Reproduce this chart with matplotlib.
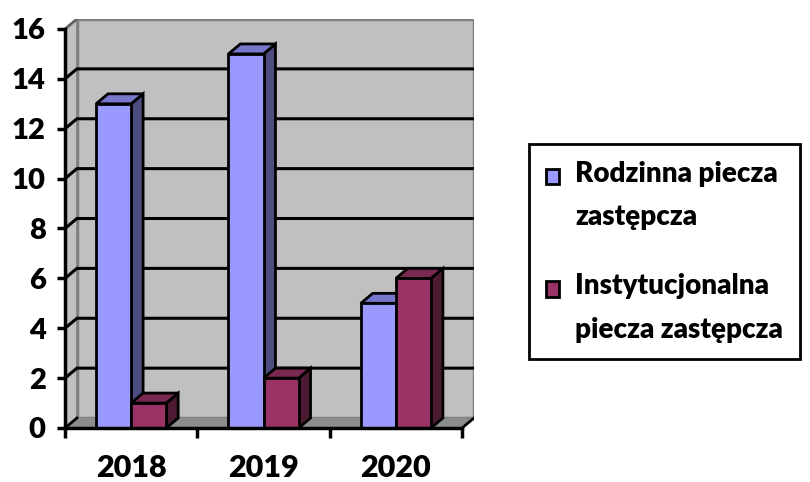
import matplotlib
matplotlib.use("Agg")
import matplotlib.pyplot as plt
from matplotlib.patches import Polygon, Rectangle, Patch
from matplotlib.legend_handler import HandlerPatch

years = ["2018", "2019", "2020"]
rodzinna = [13, 15, 5]
instytucjonalna = [1, 2, 6]
series_names = ["Rodzinna piecza\nzastępcza", "Instytucjonalna\npiecza zastępcza"]
yticks = [0, 2, 4, 6, 8, 10, 12, 14, 16]

plt.rcParams['font.family'] = ['Lato', 'DejaVu Sans']
plt.rcParams['font.weight'] = 'heavy'

# colours: front, side, top
cols = [("#9999ff", "#4d4d80", "#7777cc"),
        ("#993366", "#4d1a33", "#7a2952")]

DX, DY = 0.09, 0.4   # depth of the fake 3d
W = 0.265            # bar width
YMAX = 16

fig = plt.figure(figsize=(8.1, 4.82), dpi=100)
ax = fig.add_axes([65/810, 54/482, 409/810, 409/482])
ax.set_xlim(-0.5, 2.5 + DX)
ax.set_ylim(0, YMAX + DY)

# walls
ax.add_patch(Rectangle((-0.5 + DX, DY), 3, YMAX, fc="#c0c0c0", ec="#808080", lw=2.5, zorder=1))
ax.add_patch(Polygon([(-0.5, 0), (-0.5 + DX, DY), (-0.5 + DX, YMAX + DY), (-0.5, YMAX)],
                     closed=True, fc="#c0c0c0", ec="none", zorder=1))
ax.add_patch(Polygon([(-0.5, 0), (2.5, 0), (2.5 + DX, DY), (-0.5 + DX, DY)],
                     closed=True, fc="#8c8c8c", ec="none", zorder=2))
ax.plot([-0.5 + DX, -0.5 + DX], [DY, YMAX + DY], color="#808080", lw=2, zorder=1.5)

# gridlines on the back wall + side wall
for v in yticks[1:-1]:
    ax.plot([-0.5, -0.5 + DX, 2.5 + DX], [v, v + DY, v + DY], color="black", lw=2.2, zorder=2,
            solid_capstyle="butt")
ax.plot([-0.5, -0.5 + DX], [YMAX, YMAX + DY], color="#606060", lw=2, zorder=2)
ax.plot([-0.5, -0.5 + DX], [0, DY], color="black", lw=2, zorder=3)
ax.plot([2.5, 2.5 + DX], [0, DY], color="black", lw=2, zorder=3)

# bars
k = 0
for g in range(len(years)):
    for s, vals in enumerate([rodzinna, instytucjonalna]):
        front, side, top = cols[s]
        x0 = g - W + s * W
        v = vals[g]
        z = 10 + 2 * k
        ax.add_patch(Polygon([(x0 + W, 0), (x0 + W + DX, DY), (x0 + W + DX, v + DY), (x0 + W, v)],
                             closed=True, fc=side, ec="black", lw=2, zorder=z))
        ax.add_patch(Polygon([(x0, v), (x0 + DX, v + DY), (x0 + W + DX, v + DY), (x0 + W, v)],
                             closed=True, fc=top, ec="black", lw=2, zorder=z))
        ax.bar(x0, v, width=W, align="edge", color=front, edgecolor="black", lw=2, zorder=z + 1)
        k += 1

for side in ["top", "right"]:
    ax.spines[side].set_visible(False)
ax.spines["left"].set_bounds(0, YMAX)
ax.spines["bottom"].set_bounds(-0.5, 2.5)
for side in ["left", "bottom"]:
    ax.spines[side].set_linewidth(2.5)
    ax.spines[side].set_zorder(30)

ax.set_yticks(yticks)
ax.tick_params(axis="y", length=6, width=2.5, pad=8, labelsize=21)
ax.set_xticks([-0.5, 0.5, 1.5, 2.5])
ax.set_xticklabels([])
ax.set_xticks([0, 1, 2], minor=True)
ax.set_xticklabels(years, minor=True)
ax.tick_params(axis="x", which="major", length=7, width=2.5, direction="out")
ax.tick_params(axis="x", which="minor", length=0, pad=19, labelsize=22)
for lab in ax.get_yticklabels() + ax.get_xticklabels(minor=True):
    lab.set_fontweight("heavy")


def shifted_square(legend, orig_handle, xdescent, ydescent, width, height, fontsize):
    return Rectangle((-xdescent, -ydescent + 14), width, height)


handles = [Patch(fc=cols[0][0], ec="black", lw=2), Patch(fc=cols[1][0], ec="black", lw=2)]
leg = fig.legend(handles, series_names, loc="upper left", bbox_to_anchor=(529/810, 1 - 144/482),
                 borderaxespad=0, fancybox=False, edgecolor="black", framealpha=1,
                 prop={"size": 20, "weight": "heavy"}, handlelength=0.47, handleheight=0.47,
                 handletextpad=0.6, borderpad=0.6, labelspacing=1.55,
                 handler_map={Patch: HandlerPatch(patch_func=shifted_square)})
leg.get_frame().set_linewidth(2)
for t in leg.get_texts():
    t.set_linespacing(1.83)

fig.savefig("out.png", dpi=100)
